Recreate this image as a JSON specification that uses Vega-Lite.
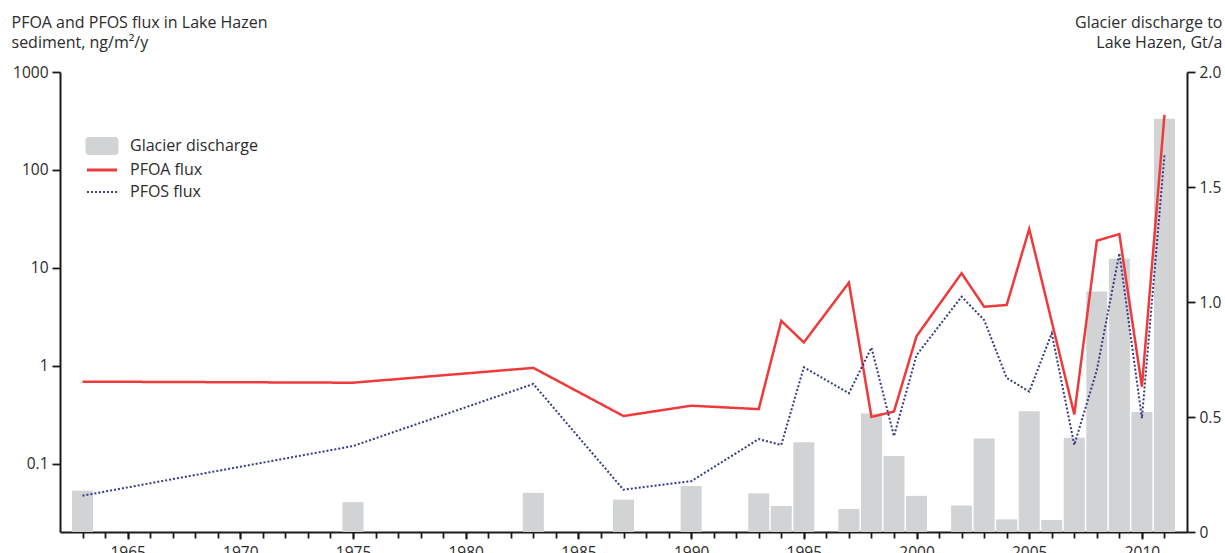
{
  "$schema": "https://vega.github.io/schema/vega-lite/v6.json",
  "width": 1127,
  "height": 460,
  "autosize": {"type": "none"},
  "padding": {"left": 60, "top": 72, "right": 38, "bottom": 21},
  "background": "white",
  "config": {
    "view": {"stroke": null},
    "font": "Open Sans",
    "axis": {
      "grid": false,
      "domainColor": "#1a1a1a",
      "domainWidth": 2,
      "tickColor": "#1a1a1a",
      "tickWidth": 1.8,
      "labelColor": "#2b2b2b",
      "labelFont": "Open Sans",
      "labelFontSize": 15.5,
      "titleFont": "Open Sans",
      "titleColor": "#2b2b2b",
      "titleFontSize": 16,
      "titleFontWeight": "normal"
    }
  },
  "data": {
    "values": [
      {"year": 1963, "series": "Glacier discharge", "value": 0.18},
      {"year": 1975, "series": "Glacier discharge", "value": 0.13},
      {"year": 1983, "series": "Glacier discharge", "value": 0.17},
      {"year": 1987, "series": "Glacier discharge", "value": 0.141},
      {"year": 1990, "series": "Glacier discharge", "value": 0.2},
      {"year": 1993, "series": "Glacier discharge", "value": 0.168},
      {"year": 1994, "series": "Glacier discharge", "value": 0.113},
      {"year": 1995, "series": "Glacier discharge", "value": 0.39},
      {"year": 1997, "series": "Glacier discharge", "value": 0.1},
      {"year": 1998, "series": "Glacier discharge", "value": 0.515},
      {"year": 1999, "series": "Glacier discharge", "value": 0.33},
      {"year": 2000, "series": "Glacier discharge", "value": 0.157},
      {"year": 2002, "series": "Glacier discharge", "value": 0.115},
      {"year": 2003, "series": "Glacier discharge", "value": 0.407},
      {"year": 2004, "series": "Glacier discharge", "value": 0.055},
      {"year": 2005, "series": "Glacier discharge", "value": 0.525},
      {"year": 2006, "series": "Glacier discharge", "value": 0.052},
      {"year": 2007, "series": "Glacier discharge", "value": 0.41},
      {"year": 2008, "series": "Glacier discharge", "value": 1.046},
      {"year": 2009, "series": "Glacier discharge", "value": 1.188},
      {"year": 2010, "series": "Glacier discharge", "value": 0.522},
      {"year": 2011, "series": "Glacier discharge", "value": 1.797},
      {"year": 1963, "series": "PFOA flux", "value": 0.687},
      {"year": 1975, "series": "PFOA flux", "value": 0.67},
      {"year": 1983, "series": "PFOA flux", "value": 0.95},
      {"year": 1987, "series": "PFOA flux", "value": 0.306},
      {"year": 1990, "series": "PFOA flux", "value": 0.39},
      {"year": 1993, "series": "PFOA flux", "value": 0.36},
      {"year": 1994, "series": "PFOA flux", "value": 2.87},
      {"year": 1995, "series": "PFOA flux", "value": 1.73},
      {"year": 1997, "series": "PFOA flux", "value": 7.05},
      {"year": 1998, "series": "PFOA flux", "value": 0.3},
      {"year": 1999, "series": "PFOA flux", "value": 0.34},
      {"year": 2000, "series": "PFOA flux", "value": 2.0},
      {"year": 2002, "series": "PFOA flux", "value": 8.8},
      {"year": 2003, "series": "PFOA flux", "value": 4.0},
      {"year": 2004, "series": "PFOA flux", "value": 4.17},
      {"year": 2005, "series": "PFOA flux", "value": 24.9},
      {"year": 2007, "series": "PFOA flux", "value": 0.318},
      {"year": 2008, "series": "PFOA flux", "value": 18.9},
      {"year": 2009, "series": "PFOA flux", "value": 22.1},
      {"year": 2010, "series": "PFOA flux", "value": 0.61},
      {"year": 2011, "series": "PFOA flux", "value": 364},
      {"year": 1963, "series": "PFOS flux", "value": 0.047},
      {"year": 1975, "series": "PFOS flux", "value": 0.151},
      {"year": 1983, "series": "PFOS flux", "value": 0.65},
      {"year": 1987, "series": "PFOS flux", "value": 0.054},
      {"year": 1990, "series": "PFOS flux", "value": 0.066},
      {"year": 1993, "series": "PFOS flux", "value": 0.178},
      {"year": 1994, "series": "PFOS flux", "value": 0.155},
      {"year": 1995, "series": "PFOS flux", "value": 0.964},
      {"year": 1997, "series": "PFOS flux", "value": 0.523},
      {"year": 1998, "series": "PFOS flux", "value": 1.53},
      {"year": 1999, "series": "PFOS flux", "value": 0.191},
      {"year": 2000, "series": "PFOS flux", "value": 1.28},
      {"year": 2002, "series": "PFOS flux", "value": 5.07},
      {"year": 2003, "series": "PFOS flux", "value": 2.93},
      {"year": 2004, "series": "PFOS flux", "value": 0.75},
      {"year": 2005, "series": "PFOS flux", "value": 0.543},
      {"year": 2006, "series": "PFOS flux", "value": 2.14},
      {"year": 2007, "series": "PFOS flux", "value": 0.155},
      {"year": 2008, "series": "PFOS flux", "value": 0.9},
      {"year": 2009, "series": "PFOS flux", "value": 14.1},
      {"year": 2010, "series": "PFOS flux", "value": 0.29},
      {"year": 2011, "series": "PFOS flux", "value": 142}
    ]
  },
  "layer": [
    {
      "transform": [{"filter": "datum.series === 'Glacier discharge'"}],
      "mark": {"type": "bar", "size": 21},
      "encoding": {
        "x": {
          "field": "year",
          "type": "quantitative",
          "scale": {"domain": [1962, 2012], "nice": false, "zero": false, "padding": 0},
          "axis": {
            "orient": "bottom",
            "values": [1963, 1964, 1965, 1966, 1967, 1968, 1969, 1970, 1971, 1972, 1973, 1974, 1975, 1976, 1977, 1978, 1979, 1980, 1981, 1982, 1983, 1984, 1985, 1986, 1987, 1988, 1989, 1990, 1991, 1992, 1993, 1994, 1995, 1996, 1997, 1998, 1999, 2000, 2001, 2002, 2003, 2004, 2005, 2006, 2007, 2008, 2009, 2010, 2011],
            "labels": false,
            "domain": false,
            "tickSize": 6,
            "title": null
          }
        },
        "y": {
          "field": "value",
          "type": "quantitative",
          "scale": {"domain": [0, 2], "nice": false, "zero": true},
          "axis": {
            "orient": "right",
            "values": [0, 0.5, 1, 1.5, 2],
            "labelExpr": "datum.value === 0 ? '0' : format(datum.value, '.1f')",
            "tickSize": 8,
            "labelPadding": 4,
            "title": ["Glacier discharge to", "Lake Hazen, Gt/a"],
            "titleAngle": 0,
            "titleAlign": "right",
            "titleBaseline": "alphabetic",
            "titleX": 35,
            "titleY": -45,
            "titleLineHeight": 20
          }
        },
        "color": {
          "field": "series",
          "type": "nominal",
          "scale": {
            "domain": ["Glacier discharge", "PFOA flux", "PFOS flux"],
            "range": ["#d1d3d4", "#ee3a3a", "#343a8a"]
          },
          "legend": {
            "orient": "none",
            "legendX": 34,
            "legendY": 66,
            "title": null,
            "padding": 0,
            "symbolSize": 900,
            "labelFont": "Open Sans",
            "labelFontSize": 16,
            "labelColor": "#2b2b2b",
            "labelOffset": 20,
            "rowPadding": -4,
            "encode": {
              "symbols": {
                "update": {
                  "shape": {"signal": "datum.value === 'Glacier discharge' ? 'M-1,-0.5H1V0.5H-1Z' : 'M-1,-0.5L-1,-0.5M-1,0L1,0M1,0.5L1,0.5'"},
                  "fill": {"signal": "datum.value === 'Glacier discharge' ? '#d1d3d4' : 'transparent'"},
                  "stroke": {"signal": "datum.value === 'Glacier discharge' ? 'transparent' : (datum.value === 'PFOA flux' ? '#ee3a3a' : '#343a8a')"},
                  "strokeDash": {"signal": "datum.value === 'PFOS flux' ? [2, 2] : [1, 0]"},
                  "strokeWidth": {"signal": "datum.value === 'PFOS flux' ? 2 : 3"},
                  "opacity": {"value": 1}
                }
              }
            }
          }
        }
      }
    },
    {
      "transform": [{"filter": "datum.series !== 'Glacier discharge'"}],
      "mark": {"type": "line"},
      "encoding": {
        "x": {
          "field": "year",
          "type": "quantitative",
          "axis": {
            "orient": "bottom",
            "values": [1965, 1970, 1975, 1980, 1985, 1990, 1995, 2000, 2005, 2010],
            "format": "d",
            "tickSize": 7,
            "labelPadding": 6,
            "title": null
          }
        },
        "y": {
          "field": "value",
          "type": "quantitative",
          "scale": {"type": "log", "domain": [0.02, 1000], "nice": false},
          "axis": {
            "orient": "left",
            "values": [0.1, 1, 10, 100, 1000],
            "labelExpr": "datum.value < 1 ? format(datum.value, '.1f') : format(datum.value, 'd')",
            "tickSize": 8,
            "labelPadding": 4,
            "title": ["PFOA and PFOS flux in Lake Hazen", "sediment, ng/m²/y"],
            "titleAngle": 0,
            "titleAlign": "left",
            "titleBaseline": "alphabetic",
            "titleX": -49,
            "titleY": -45,
            "titleLineHeight": 20
          }
        },
        "color": {"field": "series", "type": "nominal"},
        "strokeDash": {
          "field": "series",
          "type": "nominal",
          "scale": {"domain": ["PFOA flux", "PFOS flux"], "range": [[1, 0], [2, 2]]},
          "legend": null
        },
        "strokeWidth": {
          "field": "series",
          "type": "nominal",
          "scale": {"domain": ["PFOA flux", "PFOS flux"], "range": [2.5, 2]},
          "legend": null
        }
      }
    }
  ],
  "resolve": {"scale": {"y": "independent"}, "axis": {"x": "independent"}}
}
